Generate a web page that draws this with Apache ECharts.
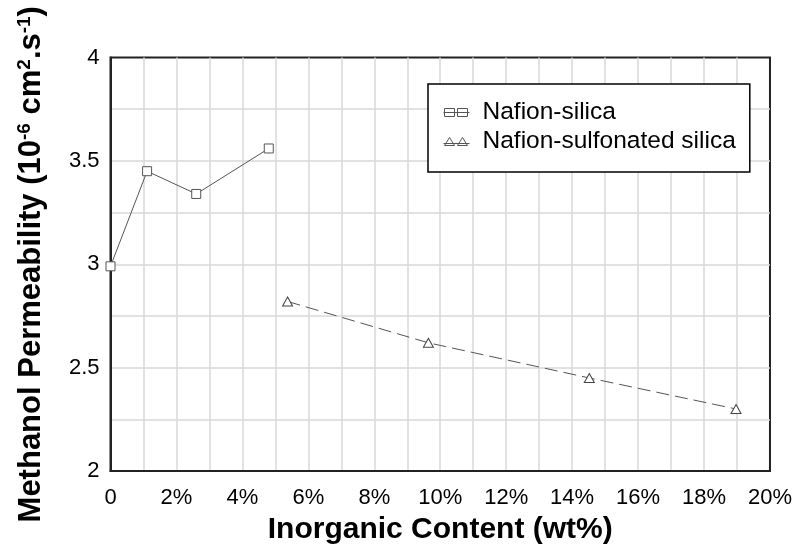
<!DOCTYPE html>
<html>
<head>
<meta charset="utf-8">
<script src="https://cdn.jsdelivr.net/npm/echarts@6/dist/echarts.min.js"></script>
<style>
html,body{margin:0;padding:0;background:#fff;}
#chart{width:795px;height:550px;}
</style>
</head>
<body>
<div id="chart"></div>
<script>
// Data
var seriesNames = ['Nafion-silica', 'Nafion-sulfonated silica'];
var silicaX = [0, 1.11, 2.60, 4.80];          // wt%
var silicaY = [2.99, 3.45, 3.34, 3.56];       // 10^-6 cm2/s
var sulfonatedX = [5.37, 9.64, 14.52, 18.97]; // wt%
var sulfonatedY = [2.82, 2.62, 2.45, 2.30];   // 10^-6 cm2/s
var xTickValues = [0, 2, 4, 6, 8, 10, 12, 14, 16, 18, 20];
var yTickLabels = ['2', '2.5', '3', '3.5', '4'];

function pairs(xs, ys) {
  return xs.map(function (x, i) { return [x, ys[i]]; });
}

var FONT = 'Liberation Sans, Arial, sans-serif';
var gridLine = { color: '#d9d9d9', width: 1.5 };
var borderLine = { color: '#222', width: 2 };

var chart = echarts.init(document.getElementById('chart'), null, { renderer: 'canvas' });
chart.setOption({
  animation: false,
  backgroundColor: '#ffffff',
  grid: {
    left: 110.5, right: 25, top: 57.5, bottom: 79,
    show: true, borderColor: '#222', borderWidth: 2, backgroundColor: 'transparent'
  },
  legend: {
    orient: 'vertical',
    left: 428, top: 84,
    padding: [16, 14, 18, 15],
    itemGap: 4,
    itemWidth: 26, itemHeight: 9,
    backgroundColor: '#fff',
    borderColor: '#000', borderWidth: 1.5, borderRadius: 0,
    textStyle: { fontFamily: FONT, fontSize: 24.5, lineHeight: 25, color: '#000', padding: [0, 0, 0, 8] },
    itemStyle: { color: '#fff', borderColor: '#555', borderWidth: 1 },
    data: [
      { name: seriesNames[0], icon: 'path://M0 4.5 L26 4.5 M1 0.5 L11 0.5 L11 8.5 L1 8.5 Z M14 0.5 L24 0.5 L24 8.5 L14 8.5 Z' },
      { name: seriesNames[1], icon: 'path://M0 6.5 L26 6.5 M1 8.5 L6 0.5 L11 8.5 Z M14 8.5 L19 0.5 L24 8.5 Z' }
    ]
  },
  xAxis: {
    type: 'value', min: 0, max: 20, interval: 2,
    name: 'Inorganic Content (wt%)',
    nameLocation: 'middle', nameGap: 44,
    nameTextStyle: { fontFamily: FONT, fontSize: 30, fontWeight: 'bold', color: '#000' },
    axisLine: { show: true, onZero: false, lineStyle: borderLine },
    axisTick: { show: false },
    axisLabel: {
      fontFamily: FONT, fontSize: 22, color: '#000', margin: 16,
      formatter: function (v) { return xTickValues.indexOf(v) < 0 ? '' : (v === 0 ? '0' : v + '%'); }
    },
    splitLine: { show: true, showMinLine: false, showMaxLine: false, lineStyle: gridLine },
    minorTick: { show: false, splitNumber: 2 },
    minorSplitLine: { show: true, lineStyle: gridLine }
  },
  yAxis: {
    type: 'value', min: 2, max: 4, interval: 0.5,
    name: 'Methanol Permeability (10{sup|-6} cm{sup|2}.s{sup|-1})',
    nameLocation: 'middle', nameGap: 64, nameRotate: 90,
    nameTextStyle: {
      fontFamily: FONT, fontSize: 31, fontWeight: 'bold', color: '#000',
      rich: { sup: { fontFamily: FONT, fontSize: 19, fontWeight: 'bold', color: '#000', verticalAlign: 'top' } }
    },
    axisLine: { show: true, onZero: false, lineStyle: borderLine },
    axisTick: { show: false },
    axisLabel: {
      fontFamily: FONT, fontSize: 22, color: '#000', margin: 11,
      formatter: function (v) { var s = String(v); return yTickLabels.indexOf(s) < 0 ? '' : s; }
    },
    splitLine: { show: true, showMinLine: false, showMaxLine: false, lineStyle: gridLine },
    minorTick: { show: false, splitNumber: 2 },
    minorSplitLine: { show: true, lineStyle: gridLine }
  },
  series: [
    {
      name: seriesNames[0], type: 'line',
      data: pairs(silicaX, silicaY),
      symbol: 'rect', symbolSize: 9,
      showAllSymbol: true,
      itemStyle: { color: '#fff', borderColor: '#555', borderWidth: 1 },
      lineStyle: { color: '#555', width: 1, type: 'solid' },
      emphasis: { disabled: true },
      z: 3
    },
    {
      name: seriesNames[1], type: 'line',
      data: pairs(sulfonatedX, sulfonatedY),
      symbol: 'triangle', symbolSize: [10, 9],
      showAllSymbol: true,
      itemStyle: { color: '#fff', borderColor: '#444', borderWidth: 1 },
      lineStyle: { color: '#555', width: 1, type: [13, 6] },
      emphasis: { disabled: true },
      z: 3
    }
  ]
});
</script>
</body>
</html>
